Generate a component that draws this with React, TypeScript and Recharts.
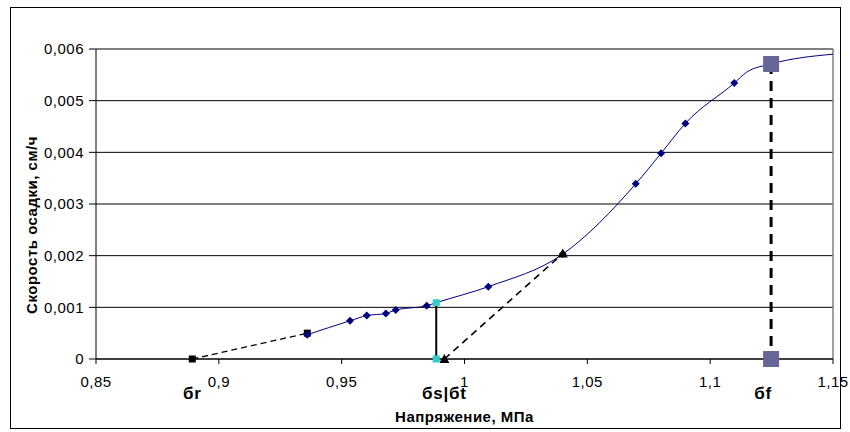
import React from 'react';
import {
  ComposedChart,
  Line,
  XAxis,
  YAxis,
  CartesianGrid,
  ReferenceLine,
  ReferenceDot,
} from 'recharts';

// smooth settlement-rate curve (incl. unmarked bend points)
const curveX = [0.936, 0.9534, 0.9602, 0.968, 0.972, 0.9846, 0.9885, 1.0097, 1.04, 1.0697, 1.08, 1.0899, 1.1098, 1.1148, 1.1248, 1.15];
const curveY = [0.00047, 0.00074, 0.00084, 0.00088, 0.00095, 0.00103, 0.00109, 0.0014, 0.00203, 0.00339, 0.00398, 0.00456, 0.00534, 0.00555, 0.00571, 0.0059];

// measured points (diamonds)
const markX = [0.936, 0.9534, 0.9602, 0.968, 0.972, 0.9846, 1.0097, 1.04, 1.0697, 1.08, 1.0899, 1.1098];
const markY = [0.00047, 0.00074, 0.00084, 0.00088, 0.00095, 0.00103, 0.0014, 0.00203, 0.00339, 0.00398, 0.00456, 0.00534];

// construction lines
const rX = [0.8892, 0.936];
const rY = [0, 0.0005];
const tX = [0.9918, 1.04];
const tY = [0, 0.00204];
const sX = [0.9885, 0.9885];
const sY = [0.00109, 0];
const fX = [1.1248, 1.1248];
const fY = [0.00571, 0];

const xTicks = [0.85, 0.9, 0.95, 1, 1.05, 1.1, 1.15];
const yTicks = [0, 0.001, 0.002, 0.003, 0.004, 0.005, 0.006];

const marks = [
  { x: 0.8892, text: 'бr', dx: 0 },
  { x: 0.9918, text: 'бs|бt', dx: 0 },
  { x: 1.1248, text: 'бf', dx: -8 },
];

const zip = (xs: number[], ys: number[]) => xs.map((x, i) => ({ x, y: ys[i] }));

const curveData = zip(curveX, curveY);
const markData = zip(markX, markY);
const rData = zip(rX, rY);
const tData = zip(tX, tY);
const sData = zip(sX, sY);
const fData = zip(fX, fY);

const FONT = '"Liberation Sans", Arial, sans-serif';
const fmt = (v: number) => String(v).replace('.', ',');

const Diamond = (props: any) => {
  const { cx, cy, index } = props;
  if (cx == null || cy == null) return <g key={`dm-${index}`} />;
  const r = 4;
  return (
    <path
      key={`dm-${index}`}
      d={`M${cx} ${cy - r} L${cx + r} ${cy} L${cx} ${cy + r} L${cx - r} ${cy} Z`}
      fill="#000080"
    />
  );
};

const makeSquare = (size: number, color: string, tag: string) => (props: any) => {
  const { cx, cy, index } = props;
  if (cx == null || cy == null) return <g key={`${tag}-${index}`} />;
  return <rect key={`${tag}-${index}`} x={cx - size / 2} y={cy - size / 2} width={size} height={size} fill={color} />;
};

const Triangle = (props: any) => {
  const { cx, cy, index } = props;
  if (cx == null || cy == null) return <g key={`tr-${index}`} />;
  const r = 5;
  return (
    <path
      key={`tr-${index}`}
      d={`M${cx} ${cy - r} L${cx + r} ${cy + r * 0.8} L${cx - r} ${cy + r * 0.8} Z`}
      fill="#000"
    />
  );
};

const AnnoLabel = (text: string, dx: number) => (props: any) => {
  const vb = props.viewBox || {};
  const x = (vb.x ?? 0) + (vb.width ?? 0) / 2 + dx;
  const y = (vb.y ?? 0) + (vb.height ?? 0) / 2;
  return (
    <text
      x={x}
      y={y + 40}
      textAnchor="middle"
      fontFamily={FONT}
      fontSize={17}
      fontWeight="bold"
      letterSpacing={0.8}
      fill="#000"
    >
      {text}
    </text>
  );
};

const YTitle = (props: any) => {
  const vb = props.viewBox || {};
  const x = (vb.x ?? 0) + 21.5;
  const y = (vb.y ?? 0) + (vb.height ?? 0) / 2 + 21;
  return (
    <text
      x={x}
      y={y}
      transform={`rotate(-90 ${x} ${y})`}
      textAnchor="middle"
      dominantBaseline="central"
      fontFamily={FONT}
      fontSize={15}
      fontWeight="bold"
      letterSpacing={0.5}
      fill="#000"
    >
      Скорость осадки, см/ч
    </text>
  );
};

const XTitle = (props: any) => {
  const vb = props.viewBox || {};
  const x = (vb.x ?? 0) + (vb.width ?? 0) / 2;
  return (
    <text
      x={x}
      y={422}
      textAnchor="middle"
      fontFamily={FONT}
      fontSize={15}
      fontWeight="bold"
      letterSpacing={0.5}
      fill="#000"
    >
      Напряжение, МПа
    </text>
  );
};

export default function App() {
  return (
    <div style={{ position: 'absolute', left: 0, top: 0, width: 850, height: 432, background: '#fff' }}>
      <div
        style={{
          position: 'absolute',
          left: 10,
          top: 7,
          width: 831,
          height: 422,
          border: '1px solid #000',
          boxSizing: 'border-box',
        }}
      />
      <ComposedChart width={850} height={432} margin={{ top: 49, right: 17, left: 10, bottom: 43 }}>
        <CartesianGrid vertical={false} stroke="#000" strokeWidth={1} />
        <ReferenceLine y={0.006} stroke="#808080" strokeWidth={1.5} />
        <ReferenceLine x={1.15} stroke="#808080" strokeWidth={1.5} />
        <XAxis
          dataKey="x"
          type="number"
          domain={[0.85, 1.15]}
          ticks={xTicks}
          tickFormatter={fmt}
          axisLine={{ stroke: '#000' }}
          tickLine={{ stroke: '#000' }}
          tickSize={5}
          tickMargin={12}
          height={30}
          tick={{ fill: '#000', fontSize: 15, fontFamily: FONT, letterSpacing: 0.5 }}
          label={<XTitle />}
        />
        <YAxis
          dataKey="y"
          type="number"
          domain={[0, 0.006]}
          ticks={yTicks}
          tickFormatter={fmt}
          axisLine={{ stroke: '#000' }}
          tickLine={{ stroke: '#000' }}
          tickSize={7}
          tickMargin={5}
          width={86}
          tick={{ fill: '#000', fontSize: 15, fontFamily: FONT, letterSpacing: 0.5 }}
          label={<YTitle />}
        />
        <Line
          data={rData}
          dataKey="y"
          type="linear"
          stroke="#000"
          strokeWidth={1.3}
          strokeDasharray="6 4"
          dot={makeSquare(7, '#000', 'rs')}
          isAnimationActive={false}
        />
        <Line
          data={curveData}
          dataKey="y"
          type="monotone"
          stroke="#000080"
          strokeWidth={1}
          dot={false}
          isAnimationActive={false}
        />
        <Line
          data={markData}
          dataKey="y"
          stroke="none"
          dot={Diamond}
          isAnimationActive={false}
        />
        <Line
          data={tData}
          dataKey="y"
          type="linear"
          stroke="#000"
          strokeWidth={1.6}
          strokeDasharray="7 5"
          dot={Triangle}
          isAnimationActive={false}
        />
        <Line
          data={sData}
          dataKey="y"
          type="linear"
          stroke="#000"
          strokeWidth={2}
          dot={makeSquare(7, '#33CCCC', 'ss')}
          isAnimationActive={false}
        />
        <Line
          data={fData}
          dataKey="y"
          type="linear"
          stroke="#000"
          strokeWidth={3}
          strokeDasharray="10 7"
          dot={makeSquare(16, '#666699', 'fs')}
          isAnimationActive={false}
        />
        {marks.map((m) => (
          <ReferenceDot
            key={m.text}
            x={m.x}
            y={0}
            r={0}
            fill="none"
            stroke="none"
            ifOverflow="visible"
            label={AnnoLabel(m.text, m.dx)}
          />
        ))}
      </ComposedChart>
    </div>
  );
}
